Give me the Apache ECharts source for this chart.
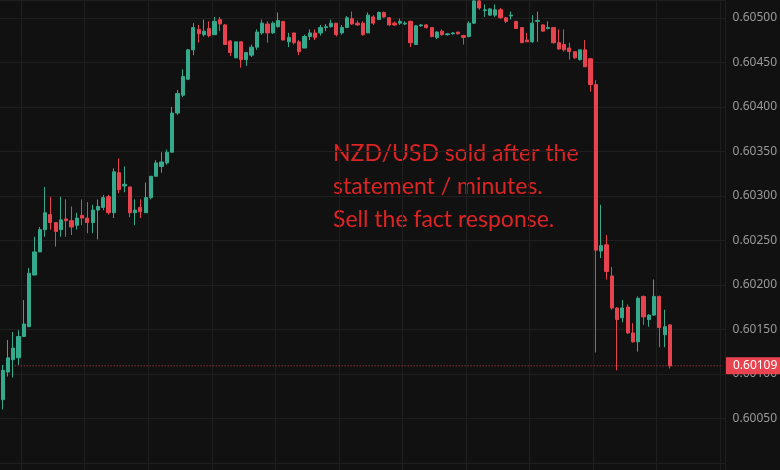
<!DOCTYPE html>
<html><head><meta charset="utf-8">
<script src="https://cdn.jsdelivr.net/npm/echarts@6/dist/echarts.min.js"></script>
<style>html,body{margin:0;padding:0;background:#111111;}#c{width:780px;height:470px;}</style>
</head><body><div id="c"></div>
<script>
const opens = [
0.60071,0.60102,0.60116,0.60118,0.60142,0.60153,0.60211,0.60237,0.60262,0.60279,
0.60270,0.60262,0.60274,0.60272,0.60267,0.60278,0.60275,0.60270,0.60284,0.60287,
0.60299,0.60281,0.60326,0.60311,0.60310,0.60281,0.60287,0.60281,0.60298,0.60322,
0.60333,0.60337,0.60349,0.60393,0.60413,0.60431,0.60464,0.60487,0.60481,0.60488,
0.60481,0.60498,0.60492,0.60474,0.60455,0.60473,0.60453,0.60458,0.60467,0.60483,
0.60493,0.60483,0.60490,0.60496,0.60473,0.60483,0.60473,0.60466,0.60479,0.60483,
0.60483,0.60489,0.60490,0.60494,0.60483,0.60489,0.60499,0.60494,0.60494,0.60483,
0.60501,0.60498,0.60506,0.60500,0.60494,0.60494,0.60493,0.60496,0.60470,0.60491,
0.60492,0.60489,0.60478,0.60485,0.60481,0.60482,0.60484,0.60480,0.60479,0.60494,
0.60519,0.60508,0.60503,0.60503,0.60509,0.60500,0.60502,0.60496,0.60489,0.60475,
0.60473,0.60496,0.60492,0.60488,0.60489,0.60472,0.60470,0.60466,0.60462,0.60453,
0.60464,0.60454,0.60425,0.60238,0.60245,0.60210,0.60174,0.60163,0.60175,0.60146,
0.60136,0.60187,0.60161,0.60166,0.60187,0.60144,0.60155];
const closes = [
0.60104,0.60118,0.60129,0.60142,0.60156,0.60213,0.60237,0.60262,0.60281,0.60270,
0.60260,0.60273,0.60272,0.60265,0.60275,0.60275,0.60270,0.60284,0.60288,0.60298,
0.60281,0.60327,0.60307,0.60313,0.60281,0.60284,0.60282,0.60298,0.60322,0.60337,
0.60338,0.60349,0.60393,0.60415,0.60434,0.60464,0.60489,0.60482,0.60485,0.60480,
0.60496,0.60493,0.60470,0.60461,0.60473,0.60453,0.60461,0.60467,0.60484,0.60494,
0.60483,0.60494,0.60497,0.60475,0.60478,0.60472,0.60462,0.60479,0.60483,0.60478,
0.60489,0.60490,0.60494,0.60481,0.60489,0.60500,0.60493,0.60492,0.60481,0.60503,
0.60494,0.60506,0.60501,0.60492,0.60492,0.60496,0.60494,0.60472,0.60491,0.60492,
0.60489,0.60479,0.60484,0.60481,0.60482,0.60483,0.60482,0.60478,0.60494,0.60519,
0.60511,0.60509,0.60510,0.60509,0.60500,0.60496,0.60503,0.60488,0.60472,0.60473,
0.60494,0.60497,0.60485,0.60489,0.60472,0.60465,0.60464,0.60462,0.60455,0.60464,
0.60445,0.60425,0.60239,0.60244,0.60215,0.60174,0.60161,0.60174,0.60146,0.60136,
0.60185,0.60164,0.60166,0.60187,0.60152,0.60153,0.60109];
const lows = [
0.60060,0.60097,0.60096,0.60110,0.60142,0.60153,0.60211,0.60237,0.60254,0.60262,
0.60243,0.60254,0.60254,0.60256,0.60262,0.60267,0.60258,0.60258,0.60251,0.60284,
0.60279,0.60275,0.60303,0.60304,0.60276,0.60267,0.60275,0.60281,0.60296,0.60322,
0.60326,0.60335,0.60349,0.60391,0.60411,0.60430,0.60458,0.60472,0.60479,0.60478,
0.60481,0.60485,0.60470,0.60457,0.60455,0.60444,0.60446,0.60456,0.60464,0.60481,
0.60472,0.60482,0.60489,0.60475,0.60467,0.60470,0.60458,0.60466,0.60475,0.60475,
0.60480,0.60485,0.60489,0.60479,0.60481,0.60489,0.60492,0.60491,0.60480,0.60483,
0.60492,0.60498,0.60500,0.60491,0.60491,0.60492,0.60492,0.60467,0.60470,0.60490,
0.60488,0.60478,0.60476,0.60480,0.60480,0.60481,0.60481,0.60470,0.60478,0.60493,
0.60509,0.60501,0.60502,0.60501,0.60499,0.60494,0.60498,0.60488,0.60472,0.60473,
0.60472,0.60473,0.60485,0.60487,0.60471,0.60464,0.60462,0.60453,0.60454,0.60452,
0.60445,0.60417,0.60124,0.60230,0.60206,0.60172,0.60104,0.60158,0.60145,0.60135,
0.60125,0.60155,0.60153,0.60165,0.60130,0.60130,0.60106];
const highs = [
0.60110,0.60138,0.60147,0.60149,0.60183,0.60219,0.60254,0.60265,0.60310,0.60299,
0.60270,0.60299,0.60296,0.60288,0.60281,0.60296,0.60293,0.60290,0.60296,0.60301,
0.60301,0.60331,0.60342,0.60333,0.60310,0.60296,0.60296,0.60315,0.60322,0.60340,
0.60349,0.60352,0.60400,0.60419,0.60442,0.60465,0.60494,0.60492,0.60498,0.60496,
0.60501,0.60501,0.60493,0.60475,0.60473,0.60473,0.60461,0.60470,0.60487,0.60498,
0.60496,0.60496,0.60506,0.60496,0.60483,0.60483,0.60475,0.60481,0.60487,0.60487,
0.60492,0.60493,0.60498,0.60494,0.60492,0.60502,0.60507,0.60497,0.60496,0.60506,
0.60503,0.60507,0.60507,0.60501,0.60496,0.60499,0.60496,0.60497,0.60492,0.60493,
0.60493,0.60489,0.60485,0.60487,0.60483,0.60484,0.60484,0.60481,0.60496,0.60522,
0.60520,0.60515,0.60511,0.60515,0.60511,0.60501,0.60507,0.60496,0.60489,0.60483,
0.60503,0.60507,0.60493,0.60496,0.60489,0.60487,0.60487,0.60472,0.60462,0.60464,
0.60475,0.60455,0.60430,0.60290,0.60256,0.60220,0.60175,0.60183,0.60178,0.60157,
0.60187,0.60188,0.60167,0.60206,0.60188,0.60172,0.60156];
const lastPrice = 0.60109;
const emptySlots = 10;
const yTickLabels = ['0.60050','0.60100','0.60150','0.60200','0.60250','0.60300','0.60350','0.60400','0.60450','0.60500'];
const annotationLines = ['NZD/USD sold after the', 'statement / minutes.', 'Sell the fact response.'];

const UP = '#35a98c', DOWN = '#e6434e';
const categories = [];
const candles = [];
const priceLine = [];
for (let i = 0; i < opens.length + emptySlots; i++) {
  categories.push(String(i));
  candles.push(i < opens.length ? [opens[i], closes[i], lows[i], highs[i]] : '-');
  priceLine.push(lastPrice);
}

const chart = echarts.init(document.getElementById('c'), null, {renderer: 'canvas'});
chart.setOption({
  backgroundColor: '#111111',
  animation: false,
  grid: {left: 0, right: 50, top: 0, bottom: 0, containLabel: false},
  xAxis: {
    type: 'category', data: categories, boundaryGap: true,
    axisLine: {show: false}, axisTick: {show: false}, axisLabel: {show: false},
    splitLine: {show: true, interval: function (idx) { return idx % 12 === 4; },
      lineStyle: {color: '#1f1f1f', width: 1}}
  },
  yAxis: {
    type: 'value', position: 'right', scale: true,
    min: 0.59992, max: 0.60520, splitNumber: 10,
    minInterval: 0.0005, maxInterval: 0.0005,
    axisLine: {show: false}, axisTick: {show: false},
    splitLine: {show: true, lineStyle: {color: '#1f1f1f', width: 1}},
    axisLabel: {
      margin: 7, color: '#9a9a9a', fontSize: 12, fontFamily: 'Noto Sans',
      formatter: function (v) {
        const s = v.toFixed(5);
        return yTickLabels.indexOf(s) >= 0 ? s : '';
      }
    }
  },
  series: [{
    type: 'line', data: priceLine, silent: true, symbol: 'none', z: 1,
    lineStyle: {color: '#c9404a', type: [1, 2], width: 1},
    endLabel: {show: true, distance: 3,
      formatter: function () { return lastPrice.toFixed(5); },
      backgroundColor: '#e8434f', color: '#ffffff',
      fontSize: 12, fontFamily: 'Noto Sans', padding: [3, 8, 2, 7]}
  }, {
    type: 'candlestick', data: candles, barWidth: '70%', clip: false, z: 2,
    itemStyle: {color: UP, color0: DOWN, borderColor: UP, borderColor0: DOWN, borderWidth: 1}
  }],
  graphic: [{
    type: 'text', left: 333, top: 137, silent: true,
    style: {text: annotationLines.join('\n'), fill: '#dd2424',
      font: '23px Lato', lineHeight: 33}
  }]
});
</script>
</body></html>
